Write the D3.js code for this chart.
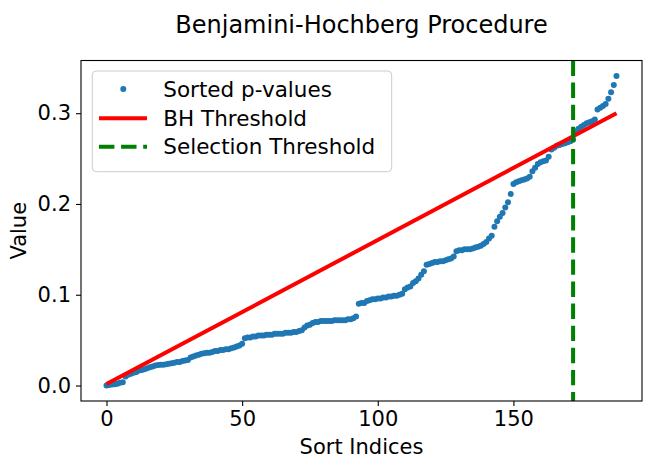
<!DOCTYPE html>
<html>
<head>
<meta charset="utf-8">
<script src="https://d3js.org/d3.v7.min.js"></script>
<style>
  body { margin: 0; background: white; }
  svg text { font-family: "DejaVu Sans", sans-serif; fill: black; }
</style>
</head>
<body>
<div id="container"></div>
<script>

// sorted p-values (index = sort index)
var pvals = [
  0.000, 0.0005, 0.001, 0.0015, 0.002, 0.003, 0.0035,
  0.010, 0.012, 0.013, 0.014, 0.015, 0.0165,
  0.017, 0.018, 0.019, 0.020, 0.021, 0.022,
  0.0225, 0.023, 0.023, 0.0235, 0.024, 0.0245,
  0.025, 0.026, 0.026, 0.027, 0.0275, 0.028, 0.031,
  0.032, 0.033, 0.034, 0.035, 0.0355, 0.036, 0.036, 0.037,
  0.038, 0.038, 0.039, 0.039, 0.040, 0.040, 0.041, 0.042, 0.043, 0.044, 0.046,
  0.052, 0.053, 0.053, 0.054, 0.054, 0.055, 0.055, 0.055, 0.056, 0.056, 0.056, 0.057, 0.057, 0.057,
  0.057, 0.058, 0.058, 0.058, 0.059, 0.059, 0.060, 0.061, 0.064, 0.066,
  0.067, 0.069, 0.070, 0.070, 0.071, 0.071, 0.071, 0.071, 0.071, 0.072, 0.072, 0.072, 0.072, 0.072, 0.073, 0.073, 0.074, 0.076,
  0.090, 0.091, 0.091, 0.093, 0.094, 0.095, 0.095, 0.096, 0.096, 0.097, 0.097, 0.098, 0.098, 0.099, 0.099, 0.100, 0.101,
  0.106, 0.108, 0.109, 0.113, 0.115, 0.118, 0.122, 0.126, 0.133,
  0.134, 0.135, 0.136, 0.136, 0.137, 0.137, 0.138, 0.139, 0.140, 0.142,
  0.148, 0.149, 0.149, 0.150, 0.150, 0.150, 0.151, 0.152, 0.153, 0.154, 0.156,
  0.158, 0.162, 0.165, 0.175, 0.181, 0.186, 0.190, 0.196, 0.202, 0.211, 0.222, 0.224,
  0.225, 0.226, 0.227, 0.228, 0.230, 0.236, 0.240, 0.244, 0.246, 0.247, 0.248,
  0.252, 0.260, 0.262, 0.264, 0.265, 0.266, 0.267, 0.268, 0.269, 0.271,
  0.280, 0.283, 0.285, 0.287, 0.289, 0.290, 0.291, 0.293,
  0.304, 0.306, 0.308, 0.310, 0.316, 0.323, 0.331, 0.341
];

// BH threshold line endpoints (sort index, value)
var bh_x = [0, 188];
var bh_y = [0.0016, 0.300];

// selection threshold (sort index)
var selection_x = 172;

var x_ticks = [0, 50, 100, 150];
var y_ticks = [0.0, 0.1, 0.2, 0.3];

var legend_labels = ["Sorted p-values", "BH Threshold", "Selection Threshold"];

var width = 651, height = 466;
var margin = {left: 81, right: 9, top: 60.5, bottom: 65};

var svg = d3.select("div#container")
  .append("svg")
  .attr("width", width)
  .attr("height", height);

// matplotlib style 5% padding
var x_lo = 0, x_hi = pvals.length - 1;
var x_pad = (x_hi - x_lo) * 0.05;
var y_lo = d3.min(pvals), y_hi = d3.max(pvals);
var y_pad = (y_hi - y_lo) * 0.05;

var x = d3.scaleLinear()
  .domain([x_lo - x_pad, x_hi + x_pad])
  .range([margin.left, width - margin.right]);

var y = d3.scaleLinear()
  .domain([y_lo - y_pad, y_hi + y_pad])
  .range([height - margin.bottom, margin.top]);

// clip to the axes box
svg.append("clipPath").attr("id", "clip")
  .append("rect")
  .attr("x", margin.left).attr("y", margin.top)
  .attr("width", width - margin.left - margin.right)
  .attr("height", height - margin.top - margin.bottom);

var plot = svg.append("g").attr("clip-path", "url(#clip)");

// points
plot.selectAll("circle.pt")
  .data(pvals)
  .enter().append("circle")
  .attr("class", "pt")
  .attr("cx", function(d, i) { return x(i); })
  .attr("cy", function(d) { return y(d); })
  .attr("r", 3)
  .style("fill", "#1f77b4");

// BH line
var bh = d3.zip(bh_x, bh_y);
plot.append("path")
  .attr("d", d3.line().x(function(d) { return x(d[0]); }).y(function(d) { return y(d[1]); })(bh))
  .style("fill", "none")
  .style("stroke", "red")
  .style("stroke-width", 4);

// selection line
plot.append("line")
  .attr("x1", x(selection_x)).attr("x2", x(selection_x))
  .attr("y1", margin.top).attr("y2", height - margin.bottom)
  .style("stroke", "green")
  .style("stroke-width", 4)
  .style("stroke-dasharray", "15.4,6.7");

// axes
var x_axis = svg.append("g")
  .attr("transform", "translate(0," + (height - margin.bottom) + ")")
  .call(d3.axisBottom(x).tickValues(x_ticks).tickSizeOuter(0).tickSize(5).tickPadding(5).tickFormat(d3.format("d")));

var y_axis = svg.append("g")
  .attr("transform", "translate(" + margin.left + ",0)")
  .call(d3.axisLeft(y).tickValues(y_ticks).tickSizeOuter(0).tickSize(5).tickPadding(5).tickFormat(d3.format(".1f")));

[x_axis, y_axis].forEach(function(a) {
  a.select(".domain").remove();
  a.selectAll("line").style("stroke", "black").style("stroke-width", 1.1);
  a.selectAll("text").style("font-size", "21px").style("font-family", "DejaVu Sans");
});

// frame
svg.append("rect")
  .attr("x", margin.left).attr("y", margin.top)
  .attr("width", width - margin.left - margin.right)
  .attr("height", height - margin.top - margin.bottom)
  .style("fill", "none")
  .style("stroke", "black")
  .style("stroke-width", 1.1);

// title and labels
svg.append("text")
  .attr("x", (margin.left + width - margin.right) / 2)
  .attr("y", 33)
  .attr("text-anchor", "middle")
  .style("font-size", "24px")
  .text("Benjamini-Hochberg Procedure");

svg.append("text")
  .attr("x", (margin.left + width - margin.right) / 2)
  .attr("y", 454)
  .attr("text-anchor", "middle")
  .style("font-size", "21px")
  .text("Sort Indices");

svg.append("text")
  .attr("transform", "translate(26," + ((margin.top + height - margin.bottom) / 2) + ") rotate(-90)")
  .attr("text-anchor", "middle")
  .style("font-size", "21px")
  .text("Value");

// legend
var legend = svg.append("g");
legend.append("rect")
  .attr("x", 92.3).attr("y", 71)
  .attr("width", 299.4).attr("height", 100.7)
  .attr("rx", 4)
  .style("fill", "white").style("fill-opacity", 0.8)
  .style("stroke", "#cccccc").style("stroke-width", 1);

var row_y = [89, 118.3, 146.7];

legend.append("circle")
  .attr("cx", 123.3).attr("cy", row_y[0]).attr("r", 3)
  .style("fill", "#1f77b4");

legend.append("line")
  .attr("x1", 99).attr("x2", 147).attr("y1", row_y[1]).attr("y2", row_y[1])
  .style("stroke", "red").style("stroke-width", 4);

legend.append("line")
  .attr("x1", 99).attr("x2", 147).attr("y1", row_y[2]).attr("y2", row_y[2])
  .style("stroke", "green").style("stroke-width", 4)
  .style("stroke-dasharray", "15.4,6.7");

legend.selectAll("text.lab")
  .data(legend_labels)
  .enter().append("text")
  .attr("class", "lab")
  .attr("x", 163.3)
  .attr("y", function(d, i) { return row_y[i]; })
  .attr("dy", "0.36em")
  .style("font-size", "21.5px")
  .text(function(d) { return d; });

</script>
</body>
</html>
